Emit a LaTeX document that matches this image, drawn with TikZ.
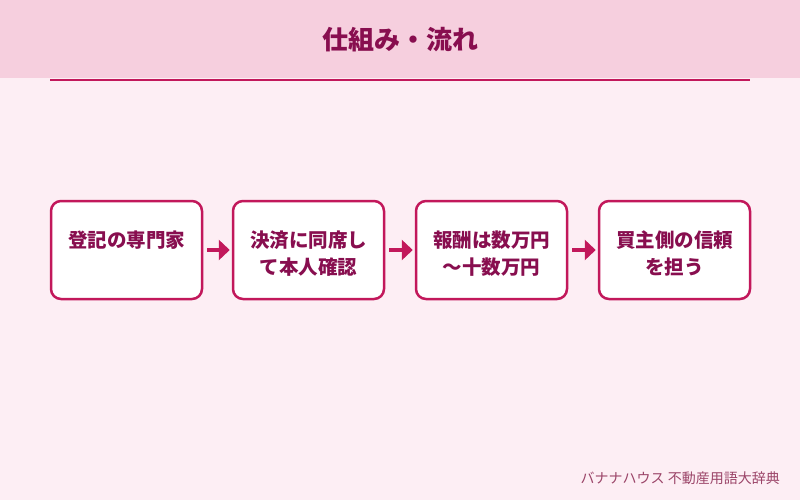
\documentclass[tikz,border=0pt]{standalone}
\usepackage{fontspec}
\newfontfamily\jp{Noto Sans CJK JP}
\usetikzlibrary{arrows.meta}
\definecolor{bgpink}{HTML}{FDEEF4}
\definecolor{headpink}{HTML}{F6CFDE}
\definecolor{accent}{HTML}{C2185B}
\definecolor{wine}{HTML}{880E4F}
\definecolor{footc}{HTML}{9B4468}
\tikzset{
  stepbox/.style={draw=accent, line width=2.5pt, fill=white, rounded corners=10pt,
    minimum width=151pt, minimum height=98pt, inner sep=0pt},
  steptext/.style={font=\jp\bfseries\fontsize{19.5pt}{27pt}\selectfont, text=wine,
    align=center, inner sep=0pt, anchor=north},
  flow/.style={draw=accent, line width=4pt,
    -{Triangle[length=11pt,width=20pt]}, shorten <=4pt, shorten >=2pt}
}
\begin{document}
\begin{tikzpicture}[x=1pt,y=-1pt]
\useasboundingbox (0,0) rectangle (800,500);
\fill[bgpink] (0,0) rectangle (800,500);
\fill[headpink] (0,0) rectangle (800,78);
\node[font=\jp\bfseries\fontsize{26pt}{30pt}\selectfont, text=wine] (title) at (400,40) {仕組み・流れ};
\draw[accent, line width=2pt] (50,80.5) coordinate (l1) -- (750,80.5) coordinate (l2);
\node[stepbox] (b1) at (126.5,250) {};
\node[stepbox] (b2) at (308.5,250) {};
\node[stepbox] (b3) at (491.5,250) {};
\node[stepbox] (b4) at (674.5,250) {};
\node[steptext] (t1) at ([yshift=-31pt]b1.north) {登記の専門家};
\node[steptext] (t2) at ([yshift=-31pt]b2.north) {決済に同席し\\て本人確認};
\node[steptext] (t3) at ([yshift=-31pt]b3.north) {報酬は数万円\\〜十数万円};
\node[steptext] (t4) at ([yshift=-31pt]b4.north) {買主側の信頼\\を担う};
\draw[flow] (b1.east) -- (b2.west);
\draw[flow] (b2.east) -- (b3.west);
\draw[flow] (b3.east) -- (b4.west);
\node[font=\jp\fontsize{14pt}{16pt}\selectfont, text=footc, anchor=east, inner sep=0pt] (foot) at (780,478) {バナナハウス 不動産用語大辞典};
\end{tikzpicture}
\end{document}
